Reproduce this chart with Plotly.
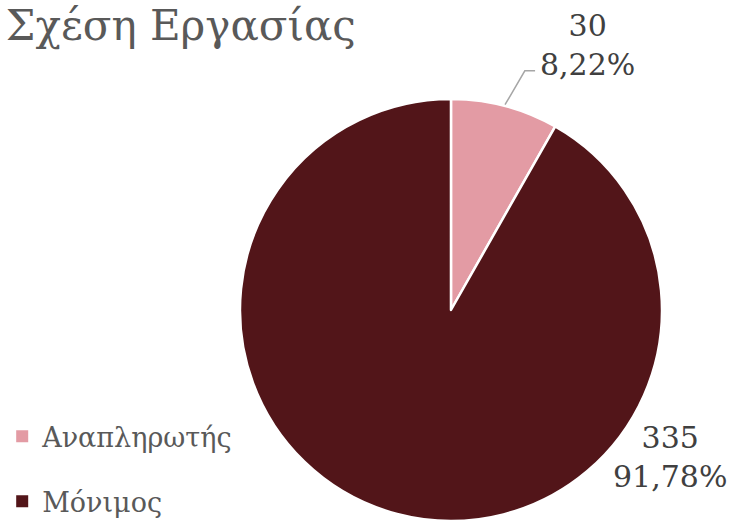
import plotly.graph_objects as go

categories = ["Αναπληρωτής", "Μόνιμος"]
counts = [30, 335]
percent_labels = ["8,22%", "91,78%"]
colors = ["#E39BA4", "#521519"]
# where each data label sits (paper coordinates)
label_x = [0.802, 0.914]
label_y = [0.913, 0.123]

SERIF = "'DejaVu Serif', 'Liberation Serif', serif"

fig = go.Figure()

fig.add_trace(go.Pie(
    labels=categories,
    values=counts,
    textinfo="none",
    sort=False,
    direction="clockwise",
    rotation=0,
    marker=dict(colors=colors, line=dict(color="white", width=2.5)),
    domain=dict(x=[0.3274, 0.9031], y=[0.0, 0.81]),
    showlegend=False,
    hoverinfo="label+value+percent",
))

# legend entries as dummy square markers (gives control over the gap)
for cat, col in zip(categories, colors):
    fig.add_trace(go.Scatter(
        x=[None], y=[None], mode="markers", name=cat, legendgroup=cat,
        marker=dict(symbol="square", size=12, color=col),
    ))

for c, p, lx, ly in zip(counts, percent_labels, label_x, label_y):
    fig.add_annotation(
        x=lx, y=ly, xref="paper", yref="paper", showarrow=False,
        xanchor="center", yanchor="middle",
        text=f"{c}<br>{p}", align="center",
        font=dict(family=SERIF, size=30, color="#404040"),
    )

# leader line for the small slice
fig.add_shape(type="path", xref="paper", yref="paper",
              path="M 0.689 0.799 L 0.716 0.864 L 0.730 0.864",
              line=dict(color="#A6A6A6", width=1.5))

fig.update_layout(
    width=733, height=521,
    margin=dict(l=0, r=0, t=0, b=0, pad=0, autoexpand=False),
    paper_bgcolor="white",
    plot_bgcolor="white",
    xaxis=dict(visible=False),
    yaxis=dict(visible=False),
    title=dict(text="Σχέση Εργασίας", x=0.008, xanchor="left", y=0.98, yanchor="top",
               font=dict(family=SERIF, size=42, color="#595959")),
    legend=dict(x=0.003, y=-0.01, xanchor="left", yanchor="bottom",
                font=dict(family=SERIF, size=27, color="#595959"),
                tracegroupgap=27, bgcolor="rgba(0,0,0,0)"),
)

# page body has an 8px default margin; drop it so the chart sits at 0,0
fig.write_html("out.html", config={"displayModeBar": False},
               post_script="document.body.style.margin='0';")
